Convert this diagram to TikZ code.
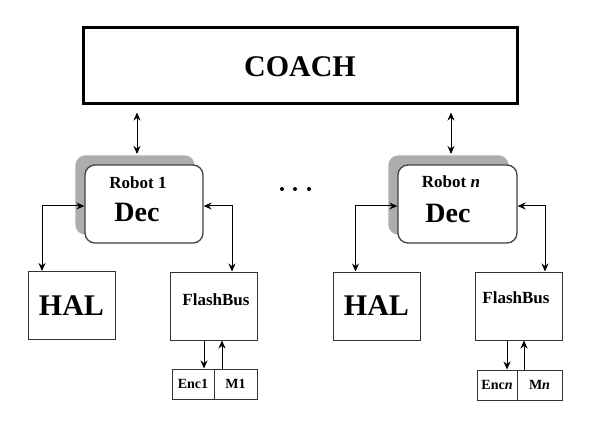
\documentclass[tikz,border=0pt]{standalone}
\usepackage{fontspec}
\setmainfont{Liberation Serif}
\usetikzlibrary{arrows.meta,calc,backgrounds}
\tikzset{
  box/.style={draw=black!80, line width=1pt, fill=white, inner sep=0pt},
  decbox/.style={draw=black!75, line width=1.3pt, fill=white, rounded corners=10pt, inner sep=0pt, minimum width=118pt, minimum height=78pt},
  shade/.style={fill=black!32, rounded corners=10pt},
  conn/.style={line width=1pt, {Stealth[length=8pt,width=7pt]}-{Stealth[length=8pt,width=7pt]}},
  oneway/.style={line width=1pt, -{Stealth[length=8pt,width=7pt]}},
  lbl/.style={font=\bfseries, inner sep=0pt},
}
\begin{document}
\begin{tikzpicture}[x=1pt,y=-1pt]
\useasboundingbox (0,0) rectangle (594,422);
% COACH
\node[box, line width=3pt, draw=black, minimum width=434pt, minimum height=76pt] (coach) at (300,66) {};
\node[lbl, font=\fontsize{30}{32}\selectfont\bfseries] (coachtxt) at (300,67) {COACH};
% Dec boxes
\node[decbox] (dec1) at (144,204) {};
\node[decbox, minimum width=119pt] (decn) at (457.5,204) {};
\begin{scope}[on background layer]
  \fill[shade] ([xshift=-9pt,yshift=9pt]dec1.south west) rectangle ([xshift=-9pt,yshift=9pt]dec1.north east);
  \fill[shade] ([xshift=-9pt,yshift=9pt]decn.south west) rectangle ([xshift=-9pt,yshift=9pt]decn.north east);
\end{scope}
\node[lbl, font=\fontsize{17}{19}\selectfont\bfseries] (r1) at (138,183) {Robot 1};
\node[lbl, font=\fontsize{28}{30}\selectfont\bfseries] (d1) at (137,212) {Dec};
\node[lbl, font=\fontsize{17}{19}\selectfont\bfseries] (rn) at (451,182) {Robot \textit{n}};
\node[lbl, font=\fontsize{28}{30}\selectfont\bfseries] (dn) at (448,213) {Dec};
% dots
\fill (282,189) circle (2pt) (295,189) circle (2pt) (309,189) circle (2pt);
% HAL
\node[box, minimum width=87pt, minimum height=68pt, font=\fontsize{30}{32}\selectfont\bfseries] (hal1) at (71.5,305.5) {HAL};
\node[box, minimum width=87pt, minimum height=68pt, font=\fontsize{30}{32}\selectfont\bfseries] (hal2) at (376.5,306) {HAL};
% FlashBus
\node[box, minimum width=87pt, minimum height=68pt] (fb1) at (213.5,306) {};
\node[lbl, font=\fontsize{17}{19}\selectfont\bfseries] (fb1t) at (216,300) {FlashBus};
\node[box, minimum width=87pt, minimum height=68pt] (fbn) at (518.5,306) {};
\node[lbl, font=\fontsize{17}{19}\selectfont\bfseries] (fbnt) at (516,298) {FlashBus};
% Enc / M
\node[box, minimum width=42pt, minimum height=30pt, font=\fontsize{14}{16}\selectfont\bfseries] (enc1) at (193,384) {Enc1};
\node[box, minimum width=43pt, minimum height=30pt, font=\fontsize{14}{16}\selectfont\bfseries] (m1) at (235.5,384) {M1};
\node[box, minimum width=40pt, minimum height=30pt, font=\fontsize{14}{16}\selectfont\bfseries] (encn) at (497,385) {Enc\textit{n}};
\node[box, minimum width=45pt, minimum height=30pt, font=\fontsize{14}{16}\selectfont\bfseries] (mn) at (539.5,385) {M\textit{n}};
% COACH connectors
\coordinate (c1) at (137,154);
\coordinate (cn) at (451,154);
\draw[conn] ([yshift=-7pt]coach.south -| c1) -- (c1);
\draw[conn] ([yshift=-7pt]coach.south -| cn) -- (cn);
% Dec to HAL / FlashBus
\draw[conn] ([yshift=-2pt]dec1.west) -| ([xshift=14.5pt]hal1.north west);
\draw[conn] ([yshift=-2pt]dec1.east) -| ([xshift=18.5pt]fb1.north);
\draw[conn] ([yshift=-2pt]decn.west) -| ([xshift=23pt]hal2.north west);
\draw[conn] ([yshift=-2pt]decn.east) -| ([xshift=26.5pt]fbn.north);
% FlashBus to Enc / M
\coordinate (a1) at (204,0);
\coordinate (b1) at (222,0);
\coordinate (an) at (507,0);
\coordinate (bn) at (524,0);
\draw[oneway] (fb1.south -| a1) -- (enc1.north -| a1);
\draw[oneway] (m1.north -| b1) -- (fb1.south -| b1);
\draw[oneway] (fbn.south -| an) -- (encn.north -| an);
\draw[oneway] (mn.north -| bn) -- (fbn.south -| bn);
\end{tikzpicture}
\end{document}
